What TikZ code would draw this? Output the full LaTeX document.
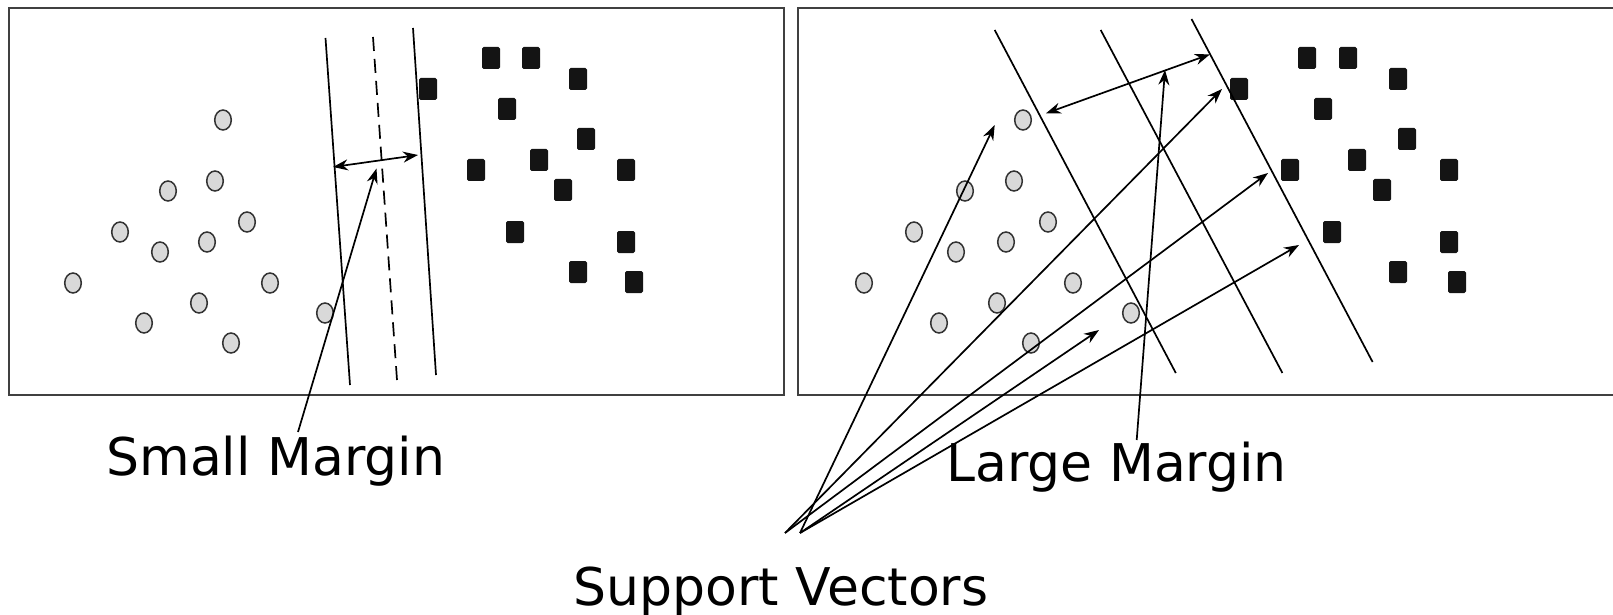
\documentclass[tikz,border=0pt]{standalone}
\usepackage{fontspec}
\setmainfont{DejaVu Sans}
\usetikzlibrary{arrows.meta,shapes.geometric}

\tikzset{
  panel/.style={draw=black!75, line width=1.3pt},
  sep/.style={line width=0.85pt},
  midline/.style={sep, dash pattern=on 7pt off 4pt},
  dot/.style={ellipse, draw=black!80, fill=black!15, line width=0.75pt,
    minimum width=8.3pt, minimum height=10pt, inner sep=0pt},
  sq/.style={rectangle, fill=black!92, rounded corners=0.8pt,
    minimum width=9pt, minimum height=11pt, inner sep=0pt},
  lbl/.style={font=\fontsize{26}{31}\selectfont, inner sep=0pt, anchor=base west}
}

\begin{document}
\begin{tikzpicture}[x=0.5pt, y=-0.5pt, >={Stealth[length=7.5pt,width=5.5pt]}]
  \useasboundingbox (0,0) rectangle (1613,615);

  % Panels
  \draw[panel] (9,8) rectangle (784,395);
  \draw[panel] (1613,8) -- (798,8) -- (798,395) -- (1613,395);

  % Left panel: class points
  \foreach \x/\y [count=\i] in {223/120, 168/191, 215/181, 247/222, 120/232,
      207/242, 160/252, 73/283, 270/283, 199/303, 144/323, 231/343, 325/313}
    \node[dot] (lc\i) at (\x,\y) {};
  \foreach \x/\y [count=\i] in {491/58, 531/58, 578/79, 428/89, 507/109,
      586/139, 539/160, 476/170, 626/170, 563/190, 515/232, 626/242,
      578/272, 634/282}
    \node[sq] (ls\i) at (\x,\y) {};

  % Left panel: separating lines
  \draw[sep] (325.5,38) -- (350,385);
  \draw[midline] (373,37) -- (397,380);
  \draw[sep] (413,28) -- (436,375);

  % Right panel: class points
  \foreach \x/\y [count=\i] in {1023/120, 965/191, 1014/181, 1048/222, 914/232,
      1006/242, 956/252, 864/283, 1073/283, 997/303, 939/323, 1031/343, 1131/313}
    \node[dot] (rc\i) at (\x,\y) {};
  \foreach \x/\y [count=\i] in {1307/58, 1348/58, 1398/79, 1239/89, 1323/109,
      1407/139, 1357/160, 1290/170, 1449/170, 1382/190, 1332/232, 1449/242,
      1398/272, 1457/282}
    \node[sq] (rs\i) at (\x,\y) {};

  % Right panel: separating lines
  \draw[sep] (994.7,30) -- (1175.8,373);
  \draw[sep] (1100.7,30) -- (1282.4,373);
  \draw[sep] (1191.5,19) -- (1372.6,362);

  % Labels
  \node[lbl] (small) at (106,475) {Small Margin};
  \node[lbl] (large) at (946,481) {Large Margin};
  \node[lbl] (support) at (573,605) {Support Vectors};

  % Arrow ends
  \coordinate (smallfoot) at (298,432);
  \coordinate (smalltip) at (376.5,168.5);
  \coordinate (largefoot) at (1136.7,440);
  \coordinate (largetip) at (1165,70);
  \coordinate (svA) at (800,533);
  \coordinate (svB) at (785,533);
  \coordinate (tA) at (994.7,125);
  \coordinate (tB) at (1222,89);
  \coordinate (tC) at (1268,173);
  \coordinate (tD) at (1299,245);
  \coordinate (tE) at (1099,330);

  % Margins
  \draw[sep, <->] (333,167) -- (418,155);
  \draw[sep, ->] (smallfoot) -- (smalltip);
  \draw[sep, <->] (1046,113.3) -- (1210,54.3);
  \draw[sep, ->] (largefoot) -- (largetip);

  % Support vector pointers
  \draw[sep, ->] (svA) -- (tA);
  \draw[sep, ->] (svB) -- (tB);
  \draw[sep, ->] (svB) -- (tC);
  \draw[sep, ->] (svA) -- (tD);
  \draw[sep, ->] (svA) -- (tE);
\end{tikzpicture}
\end{document}
